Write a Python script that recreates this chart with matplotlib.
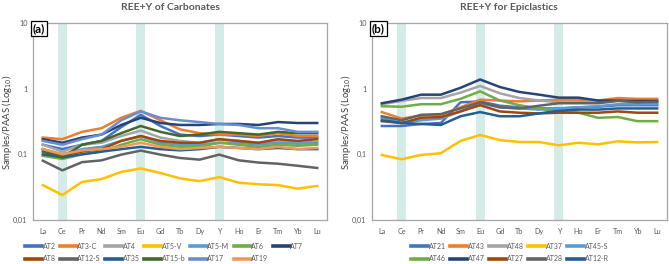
import matplotlib
matplotlib.use("Agg")
import matplotlib.pyplot as plt
from matplotlib.ticker import FixedLocator, NullLocator

plt.rcParams['font.family'] = ['Lato', 'DejaVu Sans']

elements = ["La", "Ce", "Pr", "Nd", "Sm", "Eu", "Gd", "Tb", "Dy", "Y", "Ho", "Er", "Tm", "Yb", "Lu"]
anomaly_elements = ["Ce", "Eu", "Y"]
ytick_values = [0.01, 0.1, 1, 10]
ytick_labels = ["0,01", "0,1", "1", "10"]

# Carbonates
carb_names = ["AT2", "AT3-C", "AT4", "AT5-V", "AT5-M", "AT6", "AT7",
              "AT8", "AT12-S", "AT35", "AT15-b", "AT17", "AT19"]
carb_colors = ["#4472C4", "#ED7D31", "#A5A5A5", "#FFC000", "#5B9BD5", "#70AD47", "#264478",
               "#9E480E", "#636363", "#255E91", "#43682B", "#698ED0", "#F1975A"]
AT2 = [0.14, 0.12, 0.14, 0.16, 0.26, 0.40, 0.27, 0.20, 0.19, 0.20, 0.19, 0.18, 0.19, 0.18, 0.18]
AT3_C = [0.18, 0.17, 0.22, 0.25, 0.36, 0.46, 0.33, 0.24, 0.21, 0.20, 0.20, 0.19, 0.21, 0.19, 0.19]
AT4 = [0.14, 0.11, 0.14, 0.15, 0.19, 0.23, 0.18, 0.16, 0.15, 0.17, 0.16, 0.15, 0.16, 0.15, 0.155]
AT5_V = [0.034, 0.024, 0.038, 0.042, 0.054, 0.061, 0.052, 0.043, 0.039, 0.045, 0.037, 0.035, 0.034, 0.030, 0.033]
AT5_M = [0.12, 0.10, 0.12, 0.13, 0.16, 0.19, 0.15, 0.14, 0.14, 0.15, 0.15, 0.14, 0.15, 0.145, 0.15]
AT6 = [0.095, 0.085, 0.10, 0.11, 0.14, 0.17, 0.14, 0.13, 0.13, 0.15, 0.14, 0.13, 0.14, 0.135, 0.14]
AT7 = [0.17, 0.15, 0.18, 0.20, 0.28, 0.36, 0.30, 0.28, 0.28, 0.29, 0.29, 0.28, 0.31, 0.30, 0.30]
AT8 = [0.12, 0.095, 0.11, 0.12, 0.16, 0.19, 0.16, 0.15, 0.15, 0.17, 0.16, 0.15, 0.17, 0.16, 0.17]
AT12_S = [0.080, 0.057, 0.076, 0.081, 0.099, 0.114, 0.099, 0.088, 0.083, 0.099, 0.081, 0.075, 0.072, 0.067, 0.062]
AT35 = [0.10, 0.09, 0.10, 0.11, 0.12, 0.13, 0.12, 0.115, 0.12, 0.13, 0.125, 0.12, 0.125, 0.12, 0.12]
AT15_b = [0.11, 0.09, 0.14, 0.16, 0.21, 0.27, 0.22, 0.19, 0.20, 0.22, 0.21, 0.20, 0.22, 0.21, 0.21]
AT17 = [0.16, 0.14, 0.17, 0.20, 0.33, 0.45, 0.36, 0.33, 0.31, 0.29, 0.28, 0.25, 0.25, 0.22, 0.22]
AT19 = [0.12, 0.10, 0.115, 0.12, 0.13, 0.15, 0.13, 0.12, 0.125, 0.13, 0.125, 0.12, 0.13, 0.12, 0.125]
carb_series = [AT2, AT3_C, AT4, AT5_V, AT5_M, AT6, AT7, AT8, AT12_S, AT35, AT15_b, AT17, AT19]

# Epiclastics
epi_names = ["AT21", "AT43", "AT48", "AT37", "AT45-S", "AT46", "AT47", "AT27", "AT28", "AT12-R"]
epi_colors = ["#4472C4", "#ED7D31", "#A5A5A5", "#FFC000", "#5B9BD5",
              "#70AD47", "#264478", "#9E480E", "#636363", "#255E91"]
AT21 = [0.27, 0.27, 0.29, 0.30, 0.62, 0.64, 0.55, 0.52, 0.50, 0.50, 0.52, 0.53, 0.56, 0.56, 0.56]
AT43 = [0.44, 0.35, 0.39, 0.40, 0.52, 0.68, 0.66, 0.64, 0.66, 0.68, 0.68, 0.66, 0.72, 0.70, 0.70]
AT48 = [0.58, 0.65, 0.72, 0.72, 0.87, 1.10, 0.85, 0.72, 0.66, 0.62, 0.62, 0.64, 0.66, 0.63, 0.62]
AT37 = [0.098, 0.084, 0.098, 0.104, 0.16, 0.197, 0.165, 0.154, 0.154, 0.137, 0.15, 0.142, 0.158, 0.152, 0.154]
AT45_S = [0.36, 0.30, 0.33, 0.35, 0.45, 0.60, 0.52, 0.50, 0.48, 0.50, 0.52, 0.54, 0.58, 0.58, 0.58]
AT46 = [0.54, 0.53, 0.58, 0.58, 0.70, 0.91, 0.66, 0.56, 0.50, 0.44, 0.43, 0.36, 0.37, 0.32, 0.32]
AT47 = [0.60, 0.68, 0.81, 0.81, 1.03, 1.38, 1.06, 0.89, 0.81, 0.73, 0.73, 0.66, 0.66, 0.65, 0.65]
AT27 = [0.32, 0.30, 0.36, 0.37, 0.45, 0.56, 0.45, 0.43, 0.42, 0.43, 0.43, 0.43, 0.45, 0.43, 0.43]
AT28 = [0.38, 0.33, 0.40, 0.41, 0.50, 0.62, 0.52, 0.50, 0.55, 0.60, 0.60, 0.60, 0.65, 0.62, 0.63]
AT12_R = [0.33, 0.30, 0.29, 0.28, 0.38, 0.44, 0.38, 0.38, 0.42, 0.46, 0.48, 0.48, 0.50, 0.50, 0.50]
epi_series = [AT21, AT43, AT48, AT37, AT45_S, AT46, AT47, AT27, AT28, AT12_R]

W, H = 669, 264
fig = plt.figure(figsize=(W / 100, H / 100), dpi=100)

def px_axes(x0, x1, y0, y1):
    return fig.add_axes([x0 / W, 1 - y1 / H, (x1 - x0) / W, (y1 - y0) / H])

gray_text = "#595959"
spine_col = "#A6A6A6"
band_col = "#D4ECE8"

def draw_panel(ax, names, colors, series, title, tag, title_x, ylabel_x, leg_ncol, leg_cx):
    x = list(range(len(elements)))
    for el in anomaly_elements:
        i = elements.index(el)
        ax.axvspan(i - 0.23, i + 0.23, color=band_col, zorder=0, lw=0)
    handles = []
    for name, col, vals in zip(names, colors, series):
        h, = ax.plot(x, vals, color=col, lw=1.8, label=name, zorder=2, solid_joinstyle='round')
        handles.append(h)
    ax.set_yscale('log')
    ax.set_ylim(0.01, 10)
    ax.set_xlim(-0.5, len(elements) - 0.5)
    ax.yaxis.set_major_locator(FixedLocator(ytick_values))
    ax.yaxis.set_minor_locator(NullLocator())
    ax.set_yticklabels(ytick_labels)
    ax.set_xticks(x)
    ax.set_xticklabels(elements)
    ax.tick_params(axis='both', length=0, labelsize=5.2, colors=gray_text)
    ax.tick_params(axis='y', pad=4)
    ax.tick_params(axis='x', pad=6)
    for s in ax.spines.values():
        s.set_color(spine_col)
        s.set_linewidth(0.9)
    ax.text(0.0, 1.0, tag, transform=ax.transAxes, ha='left', va='top', fontsize=8.5,
            fontweight='bold', color='black', zorder=5,
            bbox=dict(boxstyle='square,pad=0.15', fc='white', ec='black', lw=0.9))
    fig.text(title_x / W, 1 - 8 / H, title, ha='center', va='center', fontsize=7.5,
             fontweight='bold', color=gray_text)
    fig.text(ylabel_x / W, 1 - 122 / H, r"Samples/PAAS (Log$_{10}$)", rotation=90,
             ha='center', va='center', fontsize=6.8, color='#404040')
    # row-major legend ordering
    n = len(handles)
    row1 = list(range(leg_ncol))
    row2 = list(range(leg_ncol, n))
    order = []
    for j in range(leg_ncol):
        order.append(row1[j])
        if j < len(row2):
            order.append(row2[j])
    leg = fig.legend([handles[i] for i in order], [names[i] for i in order],
                     loc='center', bbox_to_anchor=(leg_cx / W, 1 - 252.5 / H),
                     ncol=leg_ncol, frameon=False, fontsize=5, handlelength=2.45,
                     handletextpad=0.1, columnspacing=0.6, labelspacing=0.75,
                     borderpad=0, borderaxespad=0)
    for t in leg.get_texts():
        t.set_color(gray_text)
    for l in leg.get_lines():
        l.set_linewidth(2.6)

ax1 = px_axes(33, 327, 23, 220)
draw_panel(ax1, carb_names, carb_colors, carb_series, "REE+Y of Carbonates", "(a)",
           170, 7, 7, 164)

ax2 = px_axes(372, 667, 23, 220)
draw_panel(ax2, epi_names, epi_colors, epi_series, "REE+Y for Epiclastics", "(b)",
           509, 346, 5, 510)

fig.savefig("out.png", dpi=100)
